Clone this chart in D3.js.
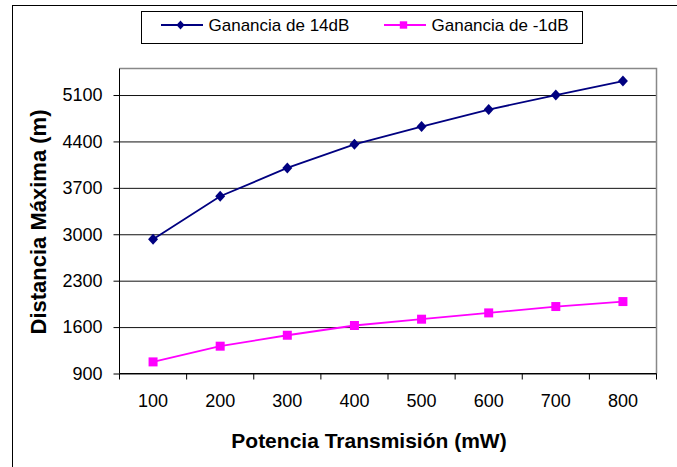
<!DOCTYPE html>
<html>
<head>
<meta charset="utf-8">
<script src="https://cdn.jsdelivr.net/npm/d3@7"></script>
<style>
  body { margin: 0; background: #fff; }
  svg { font-family: "Liberation Sans", Arial, sans-serif; display: block; }
</style>
</head>
<body>
<svg width="677" height="467"></svg>
<script>
// data
let potencias = ["100", "200", "300", "400", "500", "600", "700", "800"];
let ganancia14 = [2925, 3573, 4000, 4357, 4624, 4880, 5100, 5311];
let gananciaMenos1 = [1075, 1312, 1477, 1624, 1719, 1814, 1910, 1985];
let yTicks = [900, 1600, 2300, 3000, 3700, 4400, 5100];
let seriesNames = ["Ganancia de 14dB", "Ganancia de -1dB"];

let svg = d3.select("svg");

// outer chart frame (right/bottom sides fall outside the picture)
svg.append("rect")
    .attr("x", 12.5).attr("y", 5.5)
    .attr("width", 700).attr("height", 500)
    .attr("fill", "#fff").attr("stroke", "#000");

let plotLeft = 119.5, plotRight = 656.5, plotTop = 68.5, plotBottom = 373.5;

let x = d3.scaleBand().domain(potencias).range([plotLeft, plotRight]).padding(0);
let y = d3.scaleLinear().domain([900, 5500]).range([plotBottom, plotTop]);

// grid lines
svg.append("g")
    .attr("transform", "translate(" + plotLeft + ",0)")
    .call(d3.axisLeft(y).tickValues(yTicks).tickSize(-(plotRight - plotLeft)).tickFormat(""))
    .call(g => g.select(".domain").remove())
    .selectAll("line").attr("stroke", "#111");

// plot border top / right
svg.append("path")
    .attr("d", "M" + plotLeft + "," + plotTop + "H" + plotRight + "V" + plotBottom)
    .attr("fill", "none").attr("stroke", "#888").attr("stroke-width", 1.5);

// y axis
let yAxis = svg.append("g")
    .attr("transform", "translate(" + plotLeft + ",0)")
    .call(d3.axisLeft(y).tickValues(yTicks).tickFormat(d3.format("d"))
          .tickSize(6).tickPadding(11).tickSizeOuter(0));
yAxis.select(".domain").attr("d", "M0," + plotTop + "V" + plotBottom);
yAxis.selectAll("text").attr("font-size", 18).attr("fill", "#000");
yAxis.attr("font-family", null).attr("font-size", null);

// x axis: labels at category centres, ticks between categories
let xAxis = svg.append("g")
    .attr("transform", "translate(0," + plotBottom + ")")
    .call(d3.axisBottom(x).tickSize(0).tickPadding(21).tickSizeOuter(0));
xAxis.select(".domain").attr("d", "M" + plotLeft + ",0H" + plotRight);
xAxis.selectAll("text").attr("font-size", 18).attr("fill", "#000");
xAxis.attr("font-family", null).attr("font-size", null);

let bounds = potencias.map(d => x(d)).concat([x.range()[1]]);
xAxis.selectAll(".sep").data(bounds).enter().append("line")
    .attr("class", "sep")
    .attr("x1", d => d).attr("x2", d => d)
    .attr("y1", 0).attr("y2", 6)
    .attr("stroke", "#000");

// axis titles
svg.append("text")
    .attr("x", (plotLeft + plotRight) / 2 - 19).attr("y", 448)
    .attr("text-anchor", "middle")
    .attr("font-size", 21).attr("font-weight", "bold")
    .text("Potencia Transmisión (mW)");

svg.append("text")
    .attr("transform", "translate(46,222) rotate(-90)")
    .attr("text-anchor", "middle")
    .attr("font-size", 22).attr("font-weight", "bold")
    .text("Distancia Máxima (m)");

// series
let cx = d => x(d) + x.bandwidth() / 2;
let series = [
  { name: seriesNames[0], values: ganancia14, color: "#000080", marker: "M0,-5.5L5,0L0,5.5L-5,0Z", legendMarker: "M0,-4.5L4,0L0,4.5L-4,0Z" },
  { name: seriesNames[1], values: gananciaMenos1, color: "#ff00ff", marker: "M-4.5,-4.5H4.5V4.5H-4.5Z", legendMarker: "M-3.7,-3.7H3.7V3.7H-3.7Z" }
];

let line = d3.line()
    .x((d, i) => cx(potencias[i]))
    .y(d => y(d));

series.forEach(function(s) {
    svg.append("path")
        .datum(s.values)
        .attr("d", line)
        .attr("fill", "none")
        .attr("stroke", s.color)
        .attr("stroke-width", 1.8);

    svg.append("g").selectAll("path")
        .data(s.values)
        .enter().append("path")
        .attr("transform", (d, i) => "translate(" + cx(potencias[i]) + "," + y(d) + ")")
        .attr("d", s.marker)
        .attr("fill", s.color);
});

// legend
let legend = svg.append("g");
legend.append("rect")
    .attr("x", 141.5).attr("y", 11.5)
    .attr("width", 441).attr("height", 32)
    .attr("fill", "#fff").attr("stroke", "#000");

let legendX = [161, 384];
series.forEach(function(s, i) {
    let g = legend.append("g").attr("transform", "translate(" + legendX[i] + ",25)");
    g.append("line")
        .attr("x1", 0).attr("x2", 42)
        .attr("stroke", s.color).attr("stroke-width", 1.8);
    g.append("path")
        .attr("transform", "translate(19.5,0)")
        .attr("d", s.legendMarker)
        .attr("fill", s.color);
    g.append("text")
        .attr("x", 47.5).attr("y", 6)
        .attr("font-size", 17)
        .text(s.name);
});
</script>
</body>
</html>
